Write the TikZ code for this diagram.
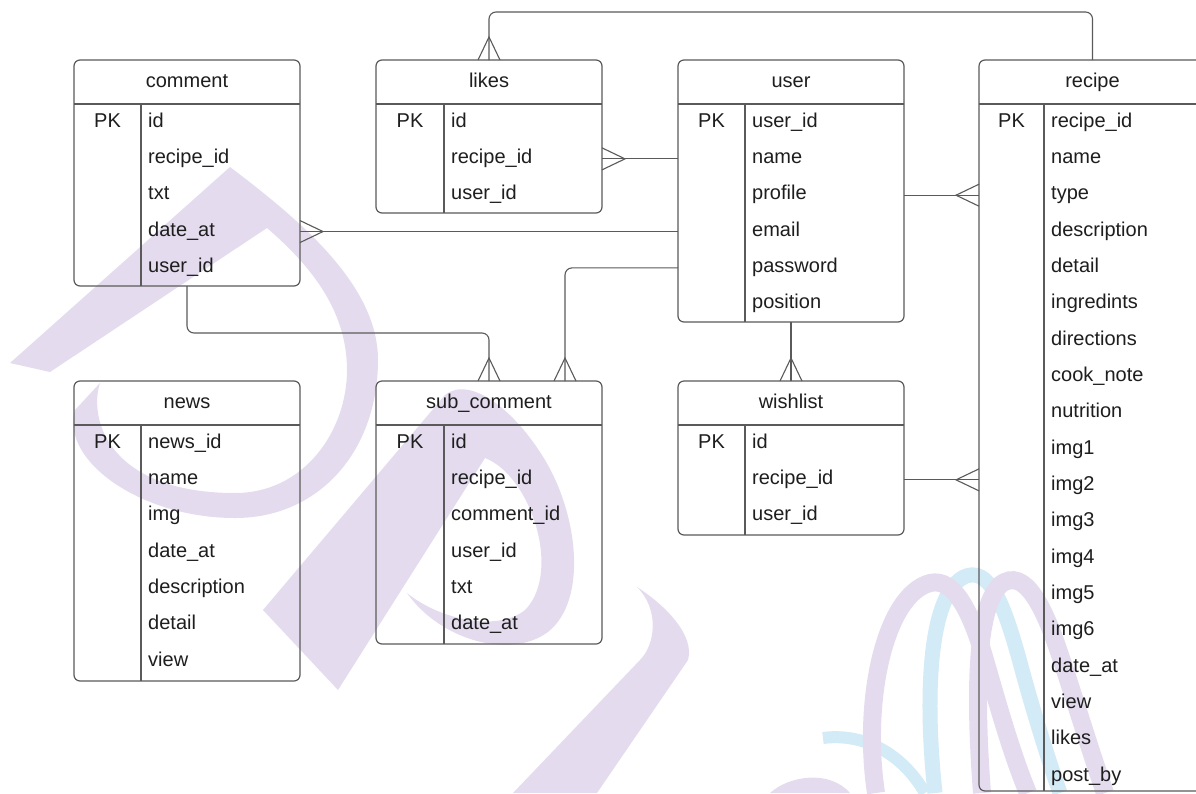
\documentclass[tikz,border=0pt]{standalone}
\usepackage{fontspec}
\setmainfont{Liberation Sans}
\usetikzlibrary{calc}
\definecolor{ln}{HTML}{5A5A5A}
\definecolor{tx}{HTML}{1E1E1E}
\definecolor{wmp}{HTML}{E4DCEE}
\definecolor{wmb}{HTML}{D3EBF6}
\tikzset{
  tbl/.style={draw=ln, line width=1.2pt, rounded corners=6pt, rectangle, inner sep=0pt, outer sep=0pt, anchor=north west},
  sepline/.style={draw=ln, line width=1.1pt},
  conn/.style={draw=ln, line width=1.1pt, rounded corners=7pt},
  crowline/.style={draw=ln, line width=1.1pt, sharp corners},
  fld/.style={anchor=base west, inner sep=0pt, text height=14pt, text depth=5pt, text=tx, font=\fontsize{20}{24}\selectfont},
  ttl/.style={anchor=base, inner sep=0pt, text=tx, font=\fontsize{20}{24}\selectfont},
  crowS/.pic={\draw[crowline] (-11,0) -- (0,-23) -- (11,0);},
  crowW/.pic={\draw[crowline] (0,-11) -- (23,0) -- (0,11);},
  crowE/.pic={\draw[crowline] (0,-11) -- (-23,0) -- (0,11);},
}
% name, left, top, right, bottom, divider, title, fields
\newcommand{\erdtable}[8]{%
  \node[tbl, minimum width={#4pt-#2pt}, minimum height={#5pt-#3pt}] (#1) at (#2,#3) {};
  \draw[sepline] (#2,{#3+44}) -- (#4,{#3+44});
  \draw[sepline] (#6,{#3+44}) -- (#6,#5);
  \node[ttl] (#1-t) at ({(#2+#4)/2},{#3+27}) {#7};
  \node[ttl] (#1-pk) at ({(#2+#6)/2},{#3+67}) {PK};
  \foreach \f [count=\i from 0] in {#8} {\node[fld] (#1-r\i) at ({#6+7},{#3+67+36.35*\i}) {\f};}
}
\begin{document}
\begin{tikzpicture}[x=1pt,y=-1pt]
\useasboundingbox (0,0) rectangle (1196,793);
\clip (0,0) rectangle (1196,793);
\fill[white] (0,0) rectangle (1196,793);
% watermark
\fill[wmp] (10,363) -- (230,167)
  .. controls (300,220) and (378,285) .. (378,360)
  .. controls (378,450) and (320,518) .. (235,518)
  .. controls (140,518) and (60,460) .. (75,410)
  -- (100,383)
  .. controls (88,420) and (110,493) .. (235,493)
  .. controls (305,493) and (347,430) .. (347,370)
  .. controls (347,310) and (310,265) .. (267,228)
  -- (50,372) -- cycle;
\fill[wmp] (263,610) -- (445,395)
  .. controls (470,375) and (515,410) .. (545,460)
  .. controls (578,515) and (588,600) .. (548,632)
  .. controls (510,660) and (440,640) .. (407,593)
  .. controls (440,620) and (498,632) .. (525,610)
  .. controls (550,585) and (545,530) .. (520,490)
  .. controls (507,470) and (495,462) .. (485,458)
  -- (338,690) -- cycle;
\fill[wmp] (637,587) .. controls (665,605) and (695,635) .. (688,660)
  -- (597,793) -- (513,793) -- (640,660)
  .. controls (655,645) and (660,610) .. (637,587) -- cycle;
\fill[wmp] (770,793) .. controls (790,775) and (830,770) .. (850,793) -- cycle;
\draw[wmb, line width=12pt] (823,738) .. controls (860,733) and (900,750) .. (925,793);
\draw[wmb, line width=15pt] (935,793) .. controls (925,700) and (928,600) .. (962,578) .. controls (990,562) and (1005,610) .. (1018,655) .. controls (1030,700) and (1045,750) .. (1060,793);
\draw[wmp, line width=18pt] (876,793) .. controls (862,700) and (885,595) .. (930,583) .. controls (955,577) and (972,615) .. (985,660) .. controls (998,705) and (1012,755) .. (1028,793);
\draw[wmp, line width=18pt] (982,793) .. controls (975,700) and (975,610) .. (1000,585) .. controls (1025,565) and (1045,610) .. (1060,655) .. controls (1075,700) and (1090,750) .. (1105,793);
% tables
\erdtable{comment}{74}{60}{300}{286}{141}{comment}{id,recipe\_id,txt,date\_at,user\_id}
\erdtable{likes}{376}{60}{602}{213}{444}{likes}{id,recipe\_id,user\_id}
\erdtable{user}{678}{60}{904}{322}{745}{user}{user\_id,name,profile,email,password,position}
\erdtable{recipe}{979}{60}{1206}{791}{1044}{recipe}{recipe\_id,name,type,description,detail,ingredints,directions,cook\_note,nutrition,img1,img2,img3,img4,img5,img6,date\_at,view,likes,post\_by}
\erdtable{news}{74}{381}{300}{681}{141}{news}{news\_id,name,img,date\_at,description,detail,view}
\erdtable{subc}{376}{381}{602}{644}{444}{sub\_comment}{id,recipe\_id,comment\_id,user\_id,txt,date\_at}
\erdtable{wish}{678}{381}{904}{535}{745}{wishlist}{id,recipe\_id,user\_id}
% connectors
\draw[conn] (recipe.north) -- ++(0,-48) -| (likes.north);
\path (likes.north) pic{crowS};
\draw[conn] (likes.east |- user-r1.west) -- (user.west |- user-r1.west);
\path (likes.east |- user-r1.west) pic{crowW};
\draw[conn] (comment.east |- comment-r3.west) -- (user.west |- comment-r3.west);
\path (comment.east |- comment-r3.west) pic{crowW};
\draw[conn] (comment.south) -- ++(0,47) -| (subc.north);
\path (subc.north) pic{crowS};
\coordinate (subc-in) at ($(subc.north)+(76,0)$);
\draw[conn] (user.west |- user-r4.west) -| (subc-in);
\path (subc-in) pic{crowS};
\draw[conn] (user.south) -- (wish.north);
\path (wish.north) pic{crowS};
\draw[conn] (user.east |- user-r2.west) -- (recipe.west |- user-r2.west);
\path (recipe.west |- user-r2.west) pic{crowE};
\draw[conn] (wish.east |- wish-r1.west) -- (recipe.west |- wish-r1.west);
\path (recipe.west |- wish-r1.west) pic{crowE};
\end{tikzpicture}
\end{document}
